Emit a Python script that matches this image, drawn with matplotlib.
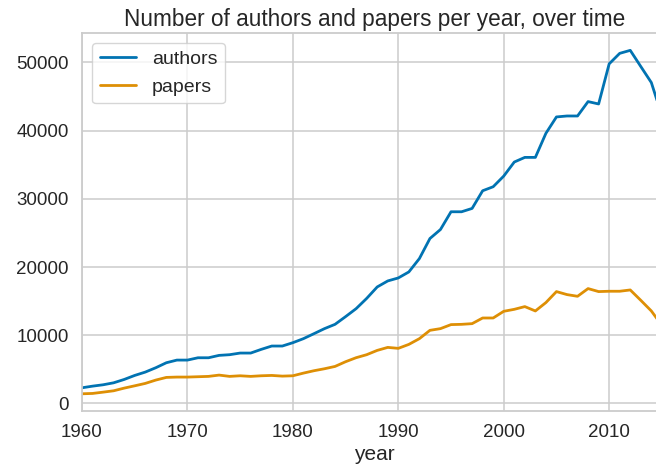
import numpy as np
import matplotlib
matplotlib.use("Agg")
import matplotlib.pyplot as plt
import seaborn as sns

# values
years = list(range(1960, 2016))
authors = [2300, 2540, 2740, 3030, 3520, 4110, 4600, 5240, 5970, 6360,
           6360, 6700, 6700, 7050, 7150, 7390, 7390, 7930, 8420, 8420,
           8910, 9500, 10230, 10970, 11600, 12730, 13900, 15400, 17080, 17960,
           18400, 19280, 21240, 24180, 25500, 28100, 28100, 28590, 31180, 31770,
           33330, 35390, 36070, 36070, 39600, 42000, 42140, 42140, 44250, 43900,
           49780, 51320, 51760, 49390, 47040, 42200]
papers = [1420, 1470, 1660, 1860, 2250, 2590, 2940, 3430, 3820, 3870,
          3870, 3920, 3970, 4160, 3970, 4060, 3970, 4060, 4110, 4010,
          4060, 4450, 4800, 5090, 5430, 6120, 6710, 7150, 7780, 8220,
          8080, 8660, 9500, 10720, 10970, 11560, 11600, 11700, 12530, 12530,
          13510, 13800, 14200, 13560, 14790, 16400, 15960, 15710, 16840, 16400,
          16450, 16450, 16640, 15120, 13560, 11450]

sns.set_theme(style="whitegrid", palette="colorblind")
plt.rcParams['font.family'] = ['Liberation Sans', 'DejaVu Sans']

fig = plt.figure(figsize=(6.56, 4.74), dpi=100)
ax = fig.add_axes([0.125, 0.133, 0.892, 0.797])

pal = sns.color_palette("colorblind")
ax.plot(years, authors, color=pal[0], lw=2.0, label="authors")
ax.plot(years, papers, color=pal[1], lw=2.0, label="papers")

ax.set_xlim(1960, 2015.5)
ax.set_xticks([1960, 1970, 1980, 1990, 2000, 2010])
ax.set_yticks([0, 10000, 20000, 30000, 40000, 50000])
ax.tick_params(labelsize=13.5)
ax.grid(True, color="#cccccc", lw=1.1)
for s in ax.spines.values():
    s.set_color("#cccccc")
    s.set_linewidth(1.3)

ax.set_xlabel("year", fontsize=15, labelpad=3)
ax.set_title("Number of authors and papers per year, over time", fontsize=16.3, pad=5)
ax.legend(loc="upper left", fontsize=14, handlelength=1.9)

fig.savefig("out.png", dpi=100)
